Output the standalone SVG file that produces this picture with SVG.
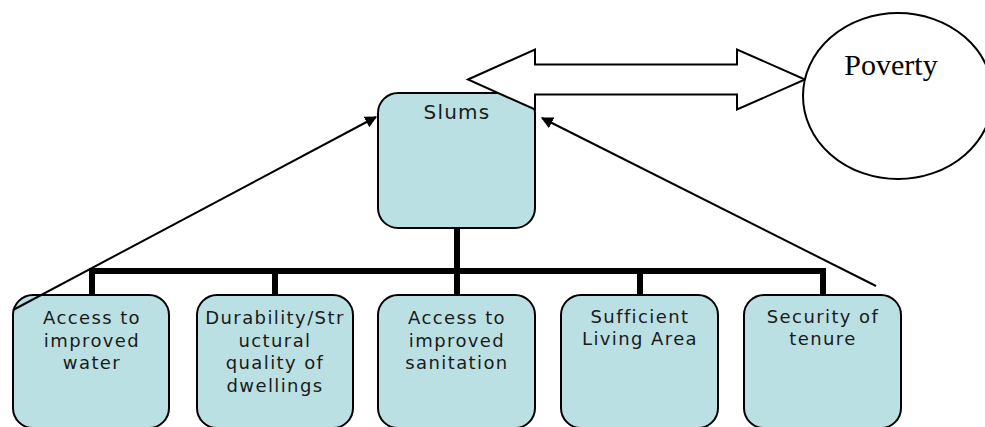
<svg xmlns="http://www.w3.org/2000/svg" width="985" height="427" viewBox="0 0 985 427">
<style>
.box{fill:#bbe0e3;stroke:#000;stroke-width:2}
.lbl{font-family:"DejaVu Sans",Verdana,sans-serif;font-size:18px;letter-spacing:1.4px;fill:#1a1a1a;text-anchor:middle}
.bar{fill:none;stroke:#000;stroke-width:6}
.arr{fill:none;stroke:#000;stroke-width:2;marker-end:url(#ah)}
</style>
<defs>
<marker id="ah" viewBox="0 0 10 10" refX="9" refY="5" markerWidth="6" markerHeight="6" orient="auto" markerUnits="strokeWidth">
<path d="M0,0 L10,5 L0,10 z" fill="#000"/>
</marker>
</defs>
<rect width="985" height="427" fill="#fff"/>
<g id="slums">
<rect class="box" x="378" y="93" width="157" height="135" rx="20"/>
<text class="lbl" x="457" y="119" style="font-size:20px;letter-spacing:1.2px">Slums</text>
</g>
<g id="double-arrow">
<polygon points="468,79.5 535,49.5 535,64.5 737,64.5 737,49.5 805,79.5 737,109.5 737,94.5 535,94.5 535,109.5" fill="#fff" stroke="#000" stroke-width="2"/>
</g>
<g id="poverty">
<ellipse cx="898" cy="96" rx="95" ry="83" fill="#fff" stroke="#000" stroke-width="2"/>
<text x="891" y="75" font-family="'Liberation Serif','Times New Roman',serif" font-size="30" text-anchor="middle" fill="#000">Poverty</text>
</g>
<g id="water">
<rect class="box" x="13" y="295" width="156" height="133" rx="20"/>
<text class="lbl" x="92" y="324">Access to</text>
<text class="lbl" x="92" y="346.5">improved</text>
<text class="lbl" x="92" y="369">water</text>
</g>
<g id="durability">
<rect class="box" x="197" y="295" width="156" height="133" rx="20"/>
<text class="lbl" x="275" y="324">Durability/Str</text>
<text class="lbl" x="275" y="346.5">uctural</text>
<text class="lbl" x="275" y="369">quality of</text>
<text class="lbl" x="275" y="391.5">dwellings</text>
</g>
<g id="sanitation">
<rect class="box" x="378" y="295" width="157" height="133" rx="20"/>
<text class="lbl" x="457" y="324">Access to</text>
<text class="lbl" x="457" y="346.5">improved</text>
<text class="lbl" x="457" y="369">sanitation</text>
</g>
<g id="living-area">
<rect class="box" x="561" y="295" width="157" height="133" rx="20"/>
<text class="lbl" x="640" y="323">Sufficient</text>
<text class="lbl" x="640" y="345">Living Area</text>
</g>
<g id="tenure">
<rect class="box" x="744" y="295" width="157" height="133" rx="20"/>
<text class="lbl" x="823" y="323">Security of</text>
<text class="lbl" x="823" y="345">tenure</text>
</g>
<g id="connectors">
<path class="bar" d="M92,295 V271 H823 V295"/>
<path class="bar" d="M457,228 V271 M275,271 V295 M457,271 V295 M640,271 V295"/>
<line class="arr" x1="13" y1="310" x2="376" y2="117"/>
<line class="arr" x1="876" y1="286" x2="542" y2="118"/>
</g>
</svg>
